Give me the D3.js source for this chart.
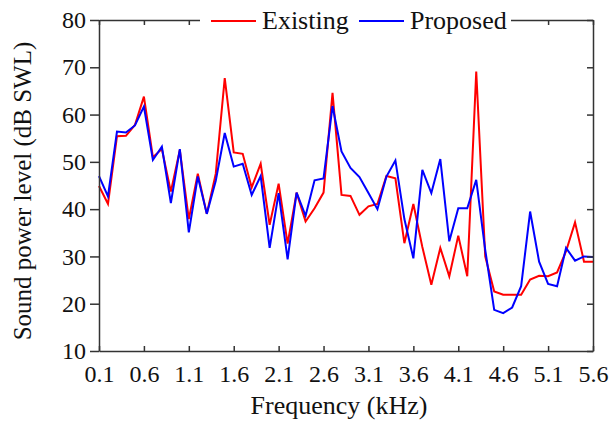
<!DOCTYPE html>
<html>
<head>
<meta charset="utf-8">
<script src="https://cdn.jsdelivr.net/npm/d3@7"></script>
<style>
body { margin: 0; background: #fff; }
svg { display: block; }
.axis text { font-family: 'Liberation Serif', 'Times New Roman', serif; font-size: 24px; fill: #111; }
.axis path, .axis line { stroke: #333; stroke-width: 1.5; }
.title { font-family: 'Liberation Serif', 'Times New Roman', serif; font-size: 26px; fill: #111; }
.legend text { font-family: 'Liberation Serif', 'Times New Roman', serif; font-size: 26px; fill: #111; }
</style>
</head>
<body>
<svg width="609" height="421"></svg>
<script>

const freqs = [0.1, 0.2, 0.3, 0.4, 0.5, 0.6, 0.7, 0.8, 0.9, 1.0,
    1.1, 1.2, 1.3, 1.4, 1.5, 1.6, 1.7, 1.8, 1.9, 2.0,
    2.1, 2.2, 2.3, 2.4, 2.5, 2.6, 2.7, 2.8, 2.9, 3.0,
    3.1, 3.2, 3.3, 3.4, 3.5, 3.6, 3.7, 3.8, 3.9, 4.0,
    4.1, 4.2, 4.3, 4.4, 4.5, 4.6, 4.7, 4.8, 4.9, 5.0,
    5.1, 5.2, 5.3, 5.4, 5.5, 5.6];

const existing = [44.9, 41.1, 55.4, 55.5, 57.8, 63.8, 51.0, 52.7, 43.7, 52.5,
    37.9, 47.5, 39.0, 47.5, 67.7, 52.0, 51.7, 44.6, 49.6, 36.7,
    45.4, 32.7, 43.5, 37.4, 40.2, 43.5, 64.6, 43.0, 42.8, 38.8,
    40.6, 41.1, 47.0, 46.5, 32.8, 41.1, 32.0, 24.0, 31.8, 25.8,
    34.4, 25.8, 69.1, 30.0, 22.6, 21.9, 21.9, 21.9, 25.1, 25.9,
    25.8, 26.6, 31.1, 37.2, 28.9, 28.9];

const proposed = [47.0, 42.7, 56.4, 56.2, 57.7, 61.7, 50.4, 53.2, 41.3, 52.7,
    35.1, 46.9, 39.0, 46.0, 56.1, 49.0, 49.6, 43.0, 47.0, 31.8,
    43.4, 29.4, 43.5, 38.6, 46.1, 46.5, 61.8, 52.2, 48.7, 46.8,
    43.4, 40.0, 46.9, 50.3, 37.9, 29.6, 48.3, 43.4, 50.6, 33.2,
    40.2, 40.2, 46.2, 31.4, 18.7, 18.0, 19.2, 23.7, 39.5, 28.9,
    24.2, 23.7, 31.8, 29.1, 30.0, 29.9];

const xTicks = [0.1, 0.6, 1.1, 1.6, 2.1, 2.6, 3.1, 3.6, 4.1, 4.6, 5.1, 5.6];
const yTicks = [10, 20, 30, 40, 50, 60, 70, 80];

const series = [
    {name: 'Existing', values: existing, color: '#ff0000'},
    {name: 'Proposed', values: proposed, color: '#0000ff'}
];

const svg = d3.select('svg');
const plotLeft = 99, plotRight = 593, plotTop = 20, plotBottom = 351;

const x = d3.scaleLinear().domain([0.1, 5.6]).range([plotLeft, plotRight]);
const y = d3.scaleLinear().domain([10, 80]).range([plotBottom, plotTop]);

const line = d3.line()
    .x((d, i) => x(freqs[i]))
    .y(d => y(d));

// lines
svg.append('g')
    .selectAll('path')
    .data(series)
    .enter()
    .append('path')
    .attr('fill', 'none')
    .attr('stroke', s => s.color)
    .attr('stroke-width', 2)
    .attr('stroke-linejoin', 'miter')
    .attr('d', s => line(s.values));

// axes
svg.append('g')
    .attr('class', 'axis')
    .attr('transform', `translate(0,${plotBottom})`)
    .call(d3.axisBottom(x).tickValues(xTicks).tickFormat(d3.format('.1f'))
        .tickSize(-5).tickSizeOuter(0).tickPadding(14));

svg.append('g')
    .attr('class', 'axis')
    .attr('transform', `translate(0,${plotTop})`)
    .call(d3.axisTop(x).tickValues(xTicks).tickFormat('')
        .tickSize(-5).tickSizeOuter(0));

svg.append('g')
    .attr('class', 'axis')
    .attr('transform', `translate(${plotLeft},0)`)
    .call(d3.axisLeft(y).tickValues(yTicks)
        .tickSize(9).tickSizeOuter(0).tickPadding(4));

svg.append('g')
    .attr('class', 'axis')
    .attr('transform', `translate(${plotRight},0)`)
    .call(d3.axisRight(y).tickValues(yTicks).tickFormat('')
        .tickSize(-6).tickSizeOuter(0));

// titles
svg.append('text')
    .attr('class', 'title')
    .attr('x', 339)
    .attr('y', 414)
    .attr('text-anchor', 'middle')
    .text('Frequency (kHz)');

svg.append('text')
    .attr('class', 'title')
    .style('font-size', '25px')
    .attr('transform', 'translate(31,191) rotate(-90)')
    .attr('text-anchor', 'middle')
    .text('Sound power level (dB SWL)');

// legend sits on top of the frame
const legend = svg.append('g').attr('class', 'legend');

legend.append('rect')
    .attr('x', 200)
    .attr('y', 8)
    .attr('width', 311)
    .attr('height', 26)
    .attr('fill', '#fff');

const item = legend.selectAll('.item')
    .data(series)
    .enter()
    .append('g')
    .attr('class', 'item')
    .attr('transform', (d, i) => `translate(${211 + i * 148},21)`);

item.append('line')
    .attr('x1', 0)
    .attr('x2', 45)
    .attr('stroke', d => d.color)
    .attr('stroke-width', 2);

item.append('text')
    .attr('x', 51)
    .attr('y', 8)
    .text(d => d.name);

</script>
</body>
</html>
